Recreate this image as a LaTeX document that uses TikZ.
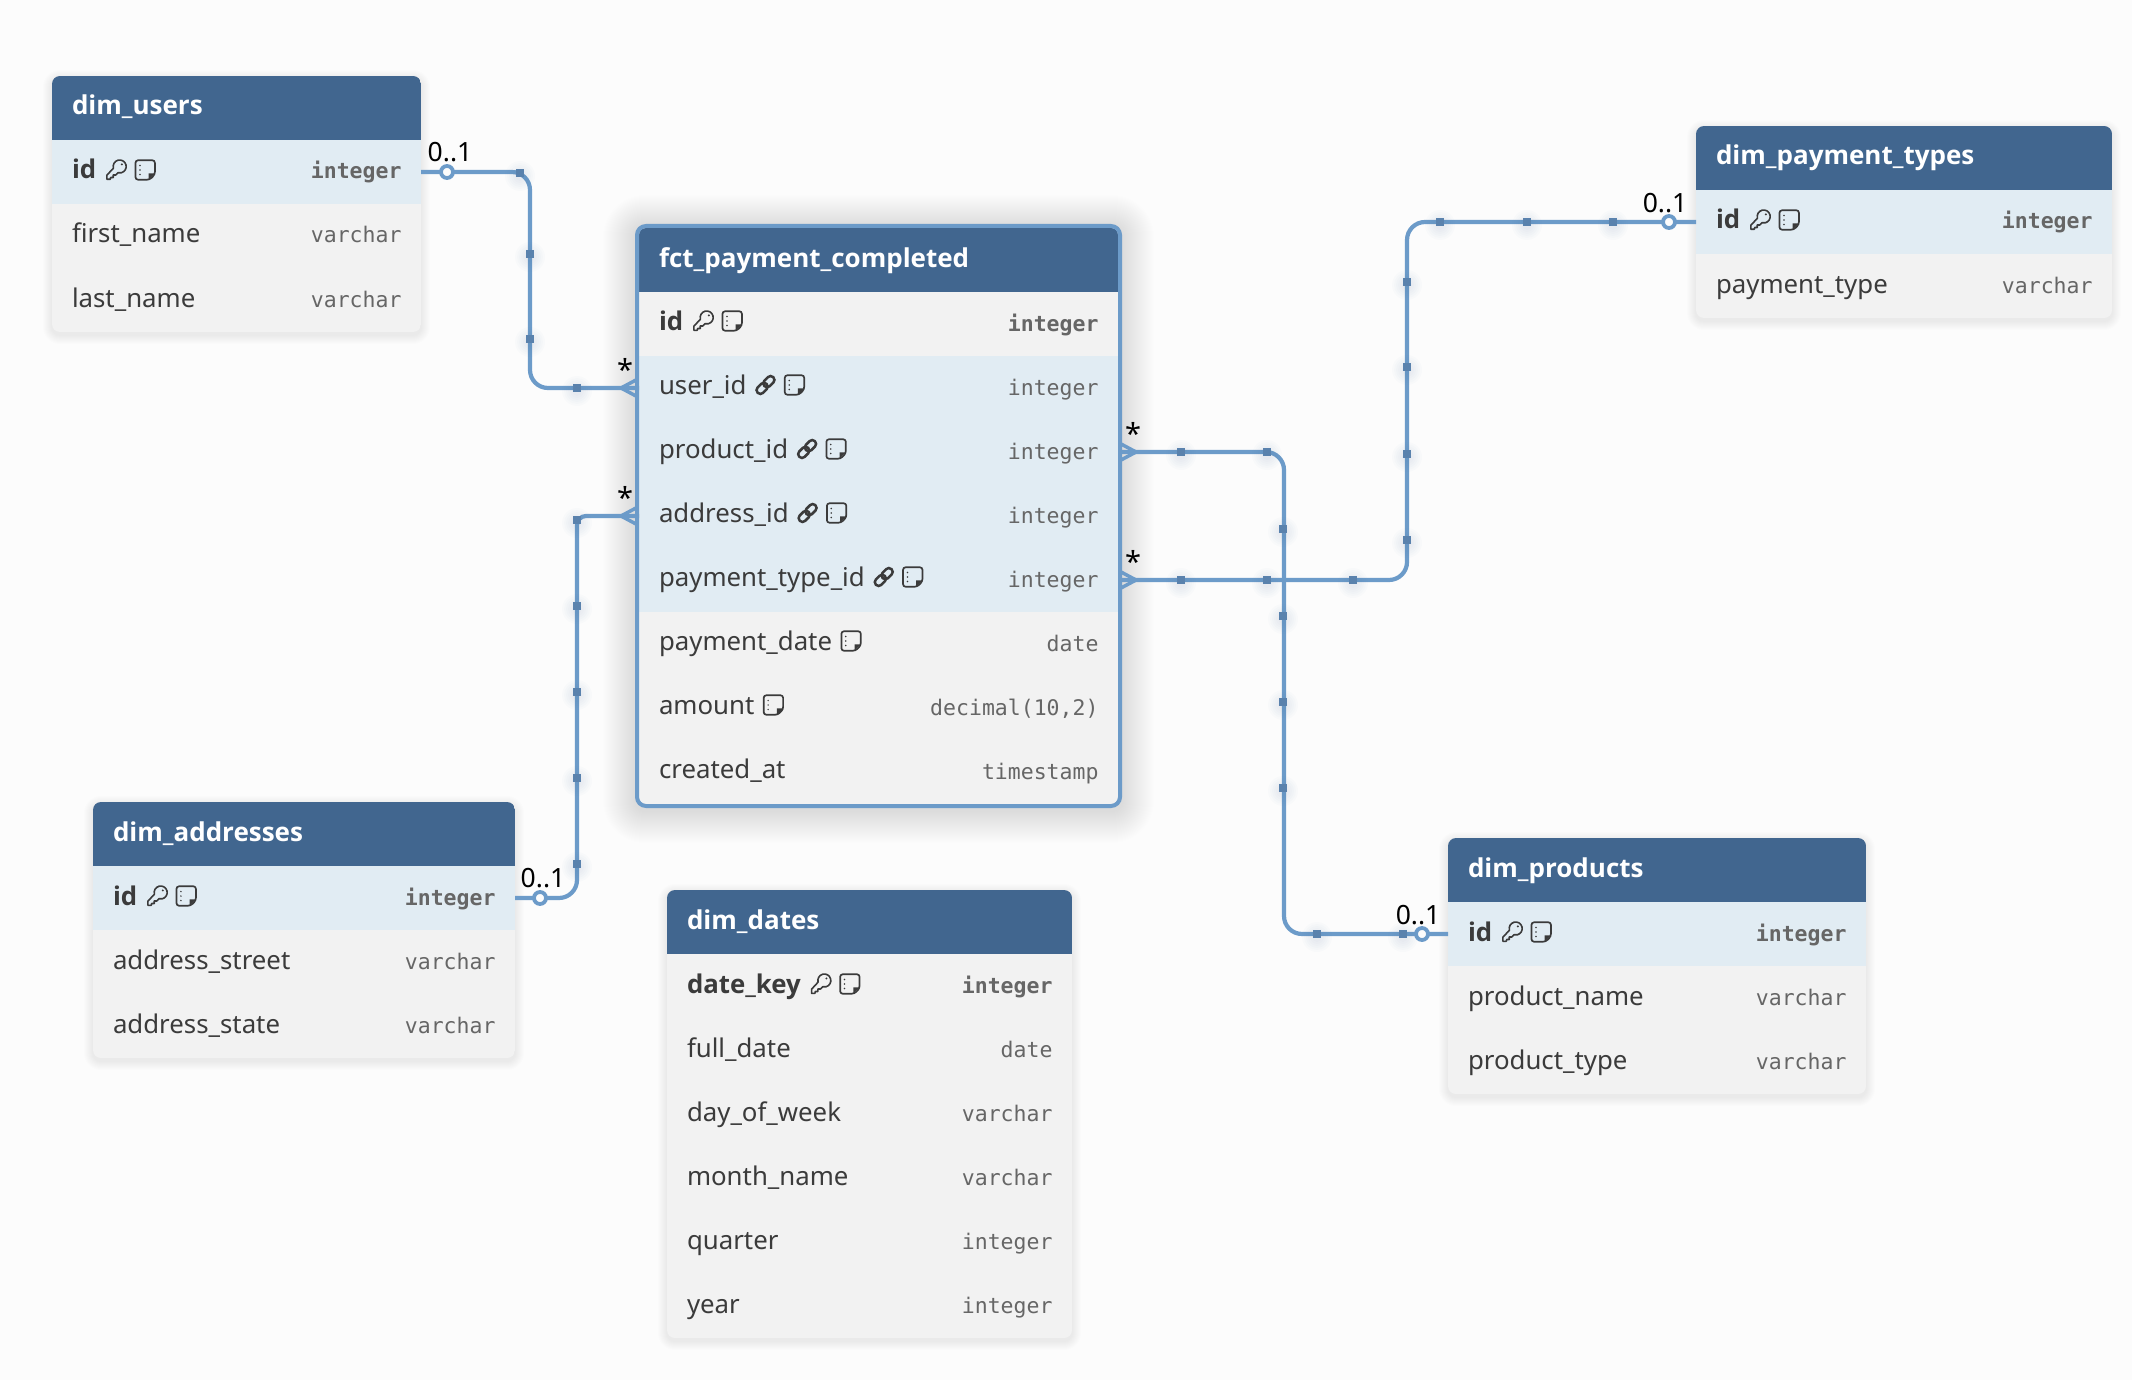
\documentclass[tikz,border=0pt]{standalone}
\usepackage{fontspec}
\setmainfont{Noto Sans}[BoldFont={Open Sans Bold}]
\newfontfamily\monof{DejaVu Sans Mono}
\usetikzlibrary{calc}
\definecolor{bgc}{HTML}{FCFCFC}
\definecolor{headc}{HTML}{41668F}
\definecolor{keyc}{HTML}{E1ECF3}
\definecolor{plainc}{HTML}{F2F2F2}
\definecolor{linec}{HTML}{6C9BC9}
\definecolor{handc}{HTML}{5A82AD}
\definecolor{glowc}{HTML}{5A70AA}
\definecolor{textc}{HTML}{3B3B3B}
\definecolor{typec}{HTML}{666666}
\tikzset{
  x=1pt,y=-1pt,
  rowbox/.style={draw=none,inner sep=0pt,outer sep=0pt,minimum height=64pt},
  coltext/.style={inner sep=0pt,outer sep=0pt,anchor=base west,text=textc,font=\fontsize{25.8}{30}\selectfont},
  typetext/.style={inner sep=0pt,outer sep=0pt,anchor=base east,text=typec,font=\fontsize{21.5}{26}\selectfont\monof},
  titletext/.style={inner sep=0pt,outer sep=0pt,anchor=base west,text=white,font=\fontsize{26}{30}\selectfont\bfseries},
  relline/.style={draw=linec,line width=4.2pt,rounded corners=18pt},
  crow/.style={draw=linec,line width=3.5pt,line join=round},
  zeroone/.style={circle,draw=linec,fill=bgc,line width=3.8pt,inner sep=0pt,outer sep=0pt,minimum size=12pt},
  handlebox/.style={rectangle,fill=handc,inner sep=0pt,outer sep=0pt,minimum size=8.5pt},
  cardtext/.style={inner sep=0pt,outer sep=0pt,text=black,font=\fontsize{26.5}{30}\selectfont},
  startext/.style={inner sep=0pt,outer sep=0pt,text=black,font=\fontsize{29}{30}\selectfont},
  keyicon/.pic={
    \draw[textc,line width=1.6pt,line join=round]
      (-2.78,-1.82) arc[start angle=165,end angle=465,radius=6.5]
      -- (-0.5,5) -- (-3,5) -- (-3,7.5) -- (-5.5,7.5) -- (-6,9.3) -- (-9.3,9.3) -- (-9.3,5.2) -- cycle;
    \fill[textc] (5.6,-5.6) circle[radius=1.1];
  },
  linkicon/.pic={
    \begin{scope}[rotate=45]
    \draw[textc,line width=2.5pt,rounded corners=3.6pt] (-11,-3.8) rectangle (1.5,3.8);
    \draw[textc,line width=2.5pt,rounded corners=3.6pt] (-1.5,-3.8) rectangle (11,3.8);
    \end{scope}
  },
  noteicon/.pic={
    \draw[textc,line width=1.7pt,rounded corners=2.5pt,line join=round]
      (-9.7,-9.7) -- (9.7,-9.7) -- (9.7,4.4) -- (4.4,9.7) -- (-9.7,9.7) -- cycle;
    \fill[textc] (9.7,3.4) -- (3.4,3.4) -- (3.4,9.7) -- cycle;
    \foreach \yy in {-4.5,0,4.5}{\fill[textc] (-5.3,\yy) circle[radius=0.85];}
  },
}
\newcommand\iconsk[1]{\pic at ([xshift=20pt,yshift=9pt]#1t.base east) {keyicon};\pic at ([xshift=49pt,yshift=9pt]#1t.base east) {noteicon};}
\newcommand\iconsl[1]{\pic at ([xshift=19pt,yshift=9pt]#1t.base east) {linkicon};\pic at ([xshift=48pt,yshift=9pt]#1t.base east) {noteicon};}
\newcommand\iconsn[1]{\pic at ([xshift=19pt,yshift=9pt]#1t.base east) {noteicon};}
\newcommand\iconso[1]{}
\newcommand\rowbase{39}
% name, fill, x1, x2, ytop, weight, label, type, icons
\newcommand\erow[9]{%
  \node[rowbox,fill=#2,minimum width={#4-#3}] (#1) at ({(#3+#4)/2},{#5+32}) {};
  \node[coltext] (#1t) at ({#3+20},{#5+\rowbase}) {#6#7};
  \node[typetext] (#1y) at ({#4-19.5},{#5+39}) {#6#8};
  \csname icons#9\endcsname{#1}%
}
% name, x1, x2, ytop, title
\newcommand\ehead[5]{%
  \node[rowbox,fill=headc,minimum width={#3-#2}] (#1) at ({(#2+#3)/2},{#4+32}) {};
  \node[titletext] (#1t) at ({#2+20},{#4+39}) {#5};
}
\newcommand\softshadow[4]{%
  \foreach \i in {1,...,9}{\fill[black,opacity=.006,rounded corners={8+\i}] ({#1-\i},{#2-\i+3}) rectangle ({#3+\i},{#4+\i+3});}%
}
\newcommand\hnd[3]{%
  \foreach \r in {5,7,9,11,13,15}{\fill[handc,opacity=.018] (#2,{#3+3}) circle[radius=\r];}%
  \node[handlebox] (#1) at (#2,#3) {};
}
\begin{document}
\begin{tikzpicture}
\fill[bgc] (0,0) rectangle (2132,1380);
\useasboundingbox (0,0) rectangle (2132,1380);

% shadows
\softshadow{52}{76}{421}{332}
\softshadow{1696}{126}{2112}{318}
\softshadow{93}{802}{515}{1058}
\softshadow{667}{890}{1072}{1338}
\softshadow{1448}{838}{1866}{1094}
\foreach \i in {1,...,32}{\fill[glowc,opacity=.0035,rounded corners={10+\i}] ({635-\i},{224-\i+3}) rectangle ({1122+\i},{808+\i+3});}

% dim_users
\begin{scope}
\clip[rounded corners=8] (52,76) rectangle (421,332);
\ehead{users}{52}{421}{76}{dim\_users}
\erow{uid}{keyc}{52}{421}{140}{\bfseries}{id}{integer}{k}
\erow{ufirst}{plainc}{52}{421}{204}{}{first\_name}{varchar}{o}
\erow{ulast}{plainc}{52}{421}{268}{}{last\_name}{varchar}{o}
\end{scope}

% dim_payment_types
\begin{scope}
\clip[rounded corners=8] (1696,126) rectangle (2112,318);
\ehead{ptypes}{1696}{2112}{126}{dim\_payment\_types}
\erow{pid}{keyc}{1696}{2112}{190}{\bfseries}{id}{integer}{k}
\erow{ptype}{plainc}{1696}{2112}{254}{}{payment\_type}{varchar}{o}
\end{scope}

% dim_addresses
\begin{scope}
\clip[rounded corners=8] (93,802) rectangle (515,1058);
\ehead{addr}{93}{515}{802}{dim\_addresses}
\erow{aid}{keyc}{93}{515}{866}{\bfseries}{id}{integer}{k}
\erow{astreet}{plainc}{93}{515}{930}{}{address\_street}{varchar}{o}
\erow{astate}{plainc}{93}{515}{994}{}{address\_state}{varchar}{o}
\end{scope}

% dim_dates
\begin{scope}
\clip[rounded corners=8] (667,890) rectangle (1072,1338);
\ehead{dates}{667}{1072}{890}{dim\_dates}
\erow{dkey}{plainc}{667}{1072}{954}{\bfseries}{date\_key}{integer}{k}
\erow{dfull}{plainc}{667}{1072}{1018}{}{full\_date}{date}{o}
\erow{dday}{plainc}{667}{1072}{1082}{}{day\_of\_week}{varchar}{o}
\erow{dmonth}{plainc}{667}{1072}{1146}{}{month\_name}{varchar}{o}
\erow{dquarter}{plainc}{667}{1072}{1210}{}{quarter}{integer}{o}
\erow{dyear}{plainc}{667}{1072}{1274}{}{year}{integer}{o}
\end{scope}

% dim_products
\begin{scope}
\clip[rounded corners=8] (1448,838) rectangle (1866,1094);
\ehead{prods}{1448}{1866}{838}{dim\_products}
\erow{prid}{keyc}{1448}{1866}{902}{\bfseries}{id}{integer}{k}
\erow{prname}{plainc}{1448}{1866}{966}{}{product\_name}{varchar}{o}
\erow{prtype}{plainc}{1448}{1866}{1030}{}{product\_type}{varchar}{o}
\end{scope}

% fct_payment_completed
\renewcommand\rowbase{38}
\begin{scope}
\clip[rounded corners=7] (639,228) rectangle (1118,804);
\ehead{fct}{639}{1118}{228}{fct\_payment\_completed}
\erow{fid}{plainc}{639}{1118}{292}{\bfseries}{id}{integer}{k}
\erow{fuser}{keyc}{639}{1118}{356}{}{user\_id}{integer}{l}
\erow{fprod}{keyc}{639}{1118}{420}{}{product\_id}{integer}{l}
\erow{faddr}{keyc}{639}{1118}{484}{}{address\_id}{integer}{l}
\erow{fptype}{keyc}{639}{1118}{548}{}{payment\_type\_id}{integer}{l}
\erow{fdate}{plainc}{639}{1118}{612}{}{payment\_date}{date}{n}
\erow{famount}{plainc}{639}{1118}{676}{}{amount}{decimal(10,2)}{n}
\erow{fcreated}{plainc}{639}{1118}{740}{}{created\_at}{timestamp}{o}
\end{scope}

% elbows
\coordinate (e1) at (530,300);
\coordinate (e2) at (577,700);
\coordinate (e3) at (1284,700);
\coordinate (e4) at (1407,400);

% connectors
\draw[relline] (uid.east) -| (e1) |- (fuser.west);
\draw[relline] (aid.east) -| (e2) [rounded corners=9pt] |- (faddr.west);
\draw[relline] (fprod.east) -| (e3) |- (prid.west);
\draw[relline] (fptype.east) -| (e4) |- (pid.west);

% crow's feet
\coordinate (tu) at (621,388);
\coordinate (ta) at (621,516);
\coordinate (tp) at (1136,452);
\coordinate (tt) at (1136,580);
\foreach \t in {tu,ta}{
  \draw[crow] (\t) -- ++(15,-8) (\t) -- ++(15,0) (\t) -- ++(15,8);
}
\foreach \t in {tp,tt}{
  \draw[crow] (\t) -- ++(-15,-8) (\t) -- ++(-15,0) (\t) -- ++(-15,8);
}

% zero-or-one circles
\node[zeroone] (zu) at (447,172) {};
\node[zeroone] (za) at (540,898) {};
\node[zeroone] (zp) at (1422,934) {};
\node[zeroone] (zt) at (1669,222) {};

% handles
\hnd{h1}{520}{173}
\hnd{h2}{530}{254}
\hnd{h3}{530}{339}
\hnd{h4}{577}{388}
\hnd{h5}{577}{520}
\hnd{h6}{577}{606}
\hnd{h7}{577}{692}
\hnd{h8}{577}{778}
\hnd{h9}{577}{864}
\hnd{h10}{1181}{452}
\hnd{h11}{1267}{452}
\hnd{h12}{1283}{529}
\hnd{h13}{1283}{616}
\hnd{h14}{1283}{702}
\hnd{h15}{1283}{788}
\hnd{h16}{1317}{934}
\hnd{h17}{1403}{934}
\hnd{h18}{1181}{580}
\hnd{h19}{1267}{580}
\hnd{h20}{1353}{580}
\hnd{h21}{1407}{540}
\hnd{h22}{1407}{454}
\hnd{h23}{1407}{367}
\hnd{h24}{1407}{282}
\hnd{h25}{1440}{222}
\hnd{h26}{1527}{222}
\hnd{h27}{1613}{222}

% cardinalities
\node[cardtext] (c1) at (450,152) {0..1};
\node[startext] (c2) at (625,369) {*};
\node[startext] (c3) at (625,497) {*};
\node[cardtext] (c4) at (543,878) {0..1};
\node[startext] (c5) at (1133,433) {*};
\node[startext] (c6) at (1133,561) {*};
\node[cardtext] (c7) at (1418,915) {0..1};
\node[cardtext] (c8) at (1665,203) {0..1};

% fct border
\draw[linec,line width=4pt,rounded corners=9] (637,226) rectangle (1120,806);
\end{tikzpicture}
\end{document}
